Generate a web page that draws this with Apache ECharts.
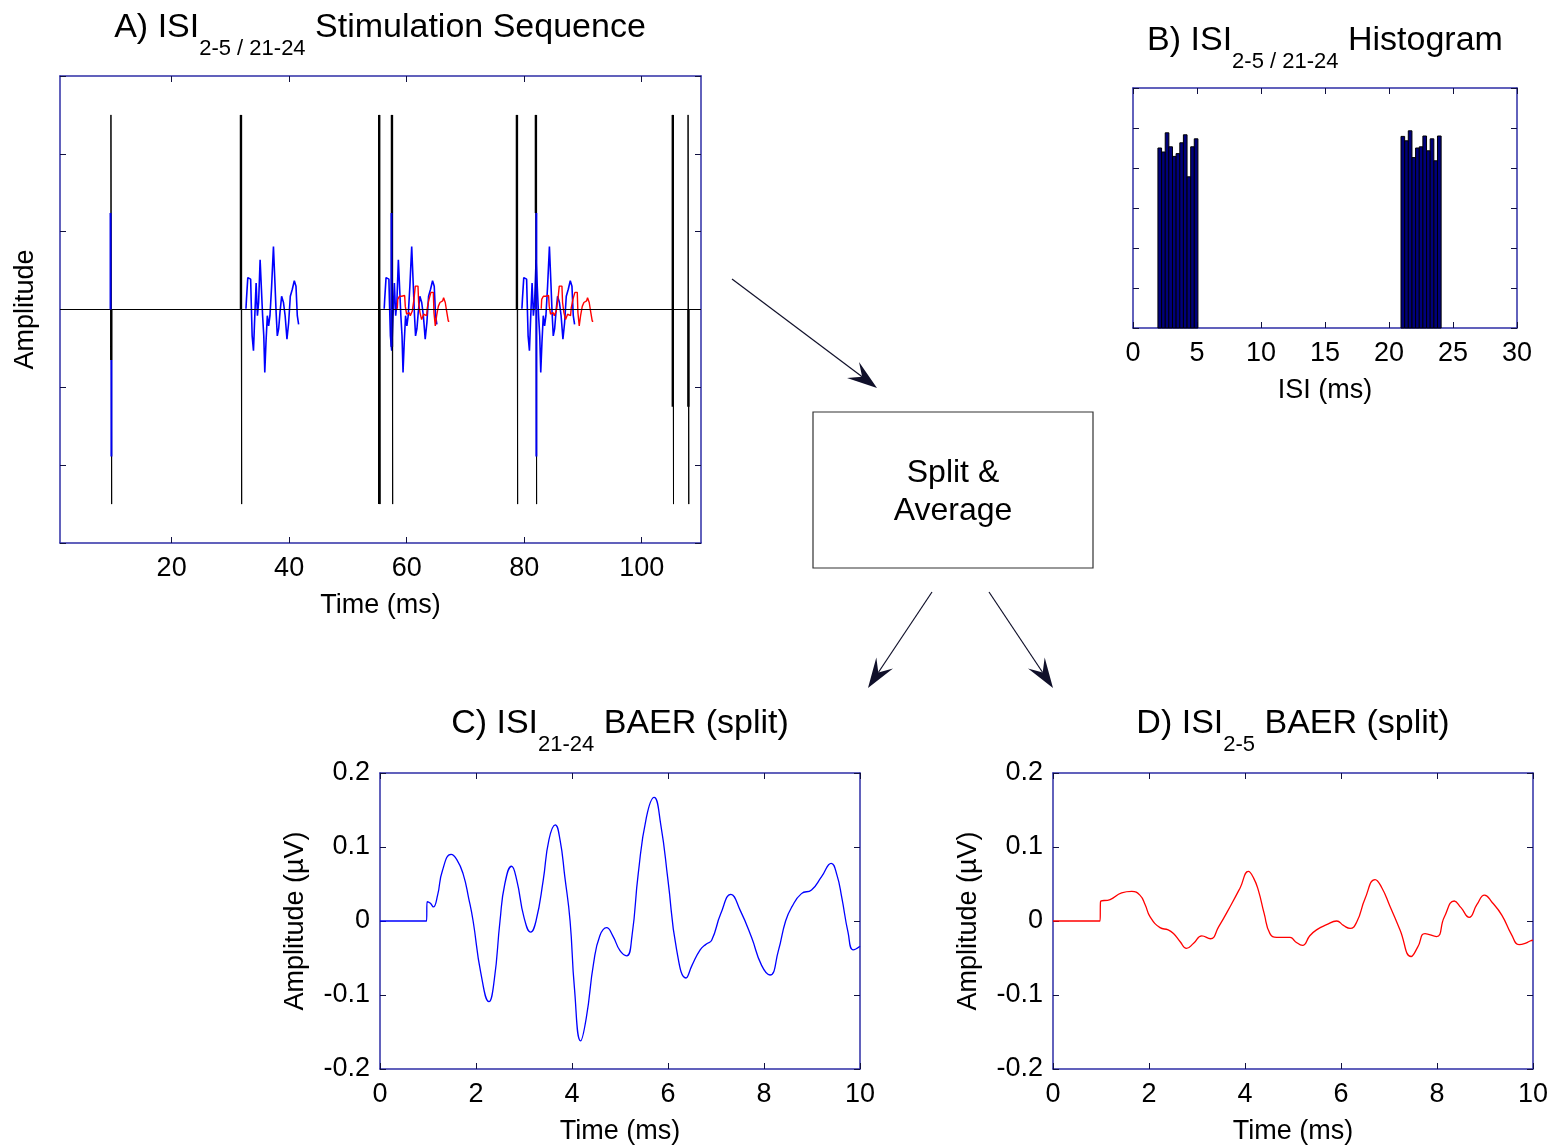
<!DOCTYPE html>
<html>
<head>
<meta charset="utf-8">
<title>ISI split BAER</title>
<script src="https://cdn.jsdelivr.net/npm/echarts@6/dist/echarts.min.js"></script>
<style>
  html, body { margin: 0; padding: 0; background: #fff; }
  #chart { width: 1552px; height: 1146px; }
</style>
</head>
<body>
<div id="chart"></div>
<script>
// ---- A) stimulation sequence ----
var clickTimes = [9.67, 31.8, 55.33, 57.5, 78.77, 82.0, 105.3, 107.9];
var clickHeight = 2.5;
var longIsiClicks = [31.8, 55.33, 78.77];   // sweeps drawn in blue
var shortIsiClicks = [57.5, 82.0];          // sweeps drawn in red
// heavier parts of the click strokes: [time, from, to]
var clickHeavy = [[9.72, 0, -0.65], [31.8, 2.5, 0], [55.33, 2.5, -2.5], [57.5, 2.5, -0.48],
                  [78.77, 2.5, 0], [82.0, 2.5, 1.24], [105.3, 2.5, -1.25], [107.95, 0, -1.25]];
// blue parts of the click strokes: [time, from, to]
var clickBlue = [[9.6, 1.24, 0], [9.75, -0.65, -1.89], [57.42, 1.24, -0.48], [82.08, 1.24, -1.89]];

// single sweeps shown in A (ms after click, amplitude)
var sweepLongT = [0.85, 1.02, 1.31, 1.65, 1.82, 1.99, 2.27, 2.44, 2.72, 2.89, 3.12, 3.40, 3.57, 3.80,
                  3.97, 4.14, 4.37, 4.60, 4.82, 5.05, 5.39, 5.67, 5.90, 6.07, 6.30, 6.53, 6.75, 7.09,
                  7.38, 7.66, 8.00, 8.23, 8.57, 8.91, 9.25, 9.48, 9.70, 9.93];
var sweepLongV = [0.01, 0.13, 0.41, 0.39, 0.13, -0.34, -0.53, -0.08, 0.34, -0.08, 0.09, 0.64, 0.26, -0.08,
                  -0.34, -0.81, -0.43, -0.08, -0.21, -0.08, 0.30, 0.81, 0.34, -0.04, -0.34, -0.25, -0.04, 0.17,
                  0.09, -0.08, -0.38, -0.17, 0.17, 0.26, 0.37, 0.30, -0.08, -0.19];
var sweepShortT = [0.91, 1.06, 1.48, 1.82, 2.16, 2.38, 2.61, 2.95, 3.29, 3.63, 3.86, 4.09, 4.43, 4.65,
                   4.88, 5.22, 5.56, 5.90, 6.13, 6.47, 6.81, 7.04, 7.26, 7.49, 7.72, 8.06, 8.28, 8.62,
                   8.96, 9.19, 9.42, 9.76];
var sweepShortV = [0.01, 0.13, 0.17, 0.15, 0.18, 0.04, -0.06, -0.04, -0.08, -0.02, 0.13, 0.30, 0.30, 0.09,
                   -0.04, -0.13, -0.06, -0.08, 0.02, 0.13, 0.22, 0.22, -0.04, -0.21, -0.08, 0.04, 0.09, 0.11,
                   0.15, 0.09, -0.02, -0.15];

// ---- B) ISI histogram ----
var isiBins = [2.09, 2.38, 2.66, 2.94, 3.23, 3.51, 3.80, 4.08, 4.37, 4.65, 4.93,
               21.08, 21.37, 21.65, 21.94, 22.22, 22.51, 22.79, 23.08, 23.36, 23.65, 23.93];
var isiCounts = [4.50, 4.40, 4.88, 4.53, 4.29, 4.36, 4.63, 4.83, 3.78, 4.53, 4.73,
                 4.79, 4.68, 4.93, 4.26, 4.50, 4.53, 4.80, 4.43, 4.73, 4.18, 4.80];
var binWidth = 0.285;

// ---- C) ISI 21-24 average ----
var longTime = [0, 0.97, 0.98, 1.05, 1.11, 1.2, 1.3, 1.48, 1.6, 1.73, 1.85, 1.94, 2.1, 2.27, 2.38, 2.5,
                2.6, 2.74, 2.85, 3.0, 3.14, 3.25, 3.4, 3.52, 3.65, 3.75, 3.85, 3.96, 4.05, 4.18, 4.3,
                4.45, 4.58, 4.72, 4.85, 5.0, 5.14, 5.25, 5.38, 5.55, 5.71, 5.85, 6.0, 6.18, 6.375, 6.5,
                6.67, 6.8, 6.91, 7.1, 7.31, 7.5, 7.74, 7.95, 8.125, 8.3, 8.45, 8.58, 8.78, 8.99, 9.2,
                9.4, 9.52, 9.62, 9.75, 9.86, 10.0];
var longAmp = [0, 0, 0.026, 0.024, 0.019, 0.035, 0.068, 0.090, 0.083, 0.064, 0.030, 0.000, -0.070, -0.109, -0.080, 0.000,
               0.050, 0.074, 0.055, 0.005, -0.015, 0.000, 0.055, 0.110, 0.130, 0.110, 0.060, 0.000, -0.090, -0.162, -0.130,
               -0.057, -0.020, -0.009, -0.020, -0.040, -0.047, -0.020, 0.064, 0.140, 0.167, 0.130, 0.055, -0.039, -0.077, -0.060,
               -0.039, -0.031, -0.026, 0.010, 0.036, 0.015, -0.022, -0.060, -0.073, -0.040, 0.000, 0.019, 0.037, 0.042, 0.060,
               0.078, 0.062, 0.032, -0.015, -0.039, -0.034];

// ---- D) ISI 2-5 average ----
var shortTime = [0, 0.98, 0.99, 1.19, 1.43, 1.64, 1.81, 1.92, 2.02, 2.23, 2.4, 2.51, 2.65, 2.78, 2.93, 3.1,
                 3.28, 3.45, 3.72, 3.9, 4.07, 4.18, 4.28, 4.4, 4.52, 4.66, 4.94, 5.05, 5.2, 5.35, 5.49,
                 5.7, 5.91, 6.05, 6.19, 6.33, 6.5, 6.71, 6.85, 7.02, 7.23, 7.46, 7.6, 7.75, 7.99, 8.15,
                 8.36, 8.5, 8.67, 8.83, 8.99, 9.15, 9.35, 9.55, 9.71, 9.85, 9.94, 10.0];
var shortAmp = [0, 0, 0.026, 0.029, 0.038, 0.040, 0.035, 0.022, 0.006, -0.009, -0.012, -0.017, -0.028, -0.037, -0.030, -0.020,
                -0.024, -0.008, 0.023, 0.045, 0.067, 0.058, 0.041, 0.010, -0.017, -0.022, -0.022, -0.028, -0.033, -0.020, -0.012,
                -0.005, 0.000, -0.006, -0.010, -0.001, 0.030, 0.056, 0.045, 0.020, -0.012, -0.048, -0.035, -0.017, -0.021, 0.005,
                0.027, 0.018, 0.005, 0.022, 0.035, 0.025, 0.008, -0.018, -0.032, -0.030, -0.027, -0.026];

var font = 'Liberation Sans, Arial, Helvetica, sans-serif';
var frameColor = '#2e2ea6';
var tickColor = '#101040';

function xPair(grid, min, max, interval, showLabels, name, custom) {
  var bottom = {
    type: 'value', gridIndex: grid, position: 'bottom', min: min, max: max, interval: interval,
    axisLine: { show: true, onZero: false, lineStyle: { color: frameColor, width: 1.5 } },
    axisTick: { show: true, inside: true, length: 6, lineStyle: { color: tickColor } },
    axisLabel: { show: showLabels, margin: 12, fontSize: 27, color: '#000', fontFamily: font,
                 showMinLabel: true, showMaxLabel: true },
    splitLine: { show: false },
    name: name, nameLocation: 'middle', nameGap: 49,
    nameTextStyle: { fontSize: 27, color: '#000', fontFamily: font }
  };
  var top = {
    type: 'value', gridIndex: grid, position: 'top', min: min, max: max, interval: interval,
    axisLine: { show: true, onZero: false, lineStyle: { color: frameColor, width: 1.5 } },
    axisTick: { show: true, inside: true, length: 6, lineStyle: { color: tickColor } },
    axisLabel: { show: false }, splitLine: { show: false }
  };
  if (custom) {
    bottom.axisTick.customValues = custom; bottom.axisLabel.customValues = custom;
    top.axisTick.customValues = custom;
  }
  return [bottom, top];
}

function yPair(grid, min, max, interval, showLabels, name, gap) {
  var left = {
    type: 'value', gridIndex: grid, position: 'left', min: min, max: max, interval: interval,
    axisLine: { show: true, onZero: false, lineStyle: { color: frameColor, width: 1.5 } },
    axisTick: { show: true, inside: true, length: 6, lineStyle: { color: tickColor } },
    axisLabel: { show: showLabels, margin: 10, fontSize: 27, color: '#000', fontFamily: font,
                 showMinLabel: true, showMaxLabel: true },
    splitLine: { show: false },
    name: name, nameLocation: 'middle', nameGap: gap,
    nameTextStyle: { fontSize: 27, color: '#000', fontFamily: font }
  };
  var right = {
    type: 'value', gridIndex: grid, position: 'right', min: min, max: max, interval: interval,
    axisLine: { show: true, onZero: false, lineStyle: { color: frameColor, width: 1.5 } },
    axisTick: { show: true, inside: true, length: 6, lineStyle: { color: tickColor } },
    axisLabel: { show: false }, splitLine: { show: false }
  };
  return [left, right];
}

function zip(ts, vs, offset) {
  var out = [];
  for (var i = 0; i < ts.length; i++) out.push([ts[i] + (offset || 0), vs[i]]);
  return out;
}

// stimulus trace: baseline with one up/down stroke per click
var stimData = [[1, 0]];
clickTimes.forEach(function (t) {
  stimData.push([t, 0], [t, clickHeight], [t + 0.12, -clickHeight], [t + 0.12, 0]);
});
stimData.push([110.1, 0]);

function segs(list) {
  var out = [];
  list.forEach(function (s) { out.push([s[0], s[1]], [s[0], s[2]], '-'); });
  return out;
}

function sweeps(clicks, ts, vs) {
  var out = [];
  clicks.forEach(function (c) { out = out.concat(zip(ts, vs, c)); out.push('-'); });
  return out;
}

function title(x, y, label, sub, rest) {
  return {
    type: 'text', x: x, y: y,
    style: {
      text: '{a|' + label + '}{s|' + sub + '}{a|' + rest + '}',
      align: 'center', verticalAlign: 'top',
      rich: {
        a: { fontSize: 34, fontFamily: font, fill: '#000', lineHeight: 40, verticalAlign: 'top' },
        s: { fontSize: 22, fontFamily: font, fill: '#000', lineHeight: 26, verticalAlign: 'top', padding: [27, 0, 0, 0] }
      }
    }
  };
}

function arrow(x1, y1, x2, y2) {
  var dx = x2 - x1, dy = y2 - y1, len = Math.sqrt(dx * dx + dy * dy);
  var ux = dx / len, uy = dy / len, nx = -uy, ny = ux;
  var L = 30, W = 10;
  var bx = x2 - L * ux, by = y2 - L * uy;
  var mx = x2 - 0.62 * L * ux, my = y2 - 0.62 * L * uy;
  return [
    { type: 'line', shape: { x1: x1, y1: y1, x2: mx, y2: my }, style: { stroke: '#10102a', lineWidth: 1.2 } },
    { type: 'polygon', shape: { points: [[x2, y2], [bx + W * nx, by + W * ny], [mx, my], [bx - W * nx, by - W * ny]] },
      style: { fill: '#10102a' } }
  ];
}

var xA = xPair(0, 1, 110.1, 20, true, 'Time (ms)', [20, 40, 60, 80, 100]);
var yA = yPair(0, -3, 3, 1, false, 'Amplitude', 21);
var xB = xPair(1, 0, 30, 5, true, 'ISI (ms)');
var yB = yPair(1, 0, 6, 1, false, '', 10);
var xC = xPair(2, 0, 10, 2, true, 'Time (ms)');
var yC = yPair(2, -0.2, 0.2, 0.1, true, 'Amplitude (\u00b5V)', 71);
var xD = xPair(3, 0, 10, 2, true, 'Time (ms)');
var yD = yPair(3, -0.2, 0.2, 0.1, true, 'Amplitude (\u00b5V)', 71);

var myChart = echarts.init(document.getElementById('chart'), null, { renderer: 'canvas' });
myChart.setOption({
  backgroundColor: '#fff',
  animation: false,
  grid: [
    { left: 60, top: 76, width: 641, height: 467 },
    { left: 1133, top: 88, width: 384, height: 240 },
    { left: 380, top: 773, width: 480, height: 299 },
    { left: 1053, top: 773, width: 480, height: 299 }
  ],
  xAxis: [].concat(xA, xB, xC, xD),
  yAxis: [].concat(yA, yB, yC, yD),
  series: [
    { type: 'line', xAxisIndex: 0, yAxisIndex: 0, data: sweeps(longIsiClicks, sweepLongT, sweepLongV),
      symbol: 'none', step: 'middle', z: 2, lineStyle: { color: '#0000ff', width: 1.6 } },
    { type: 'line', xAxisIndex: 0, yAxisIndex: 0, data: sweeps(shortIsiClicks, sweepShortT, sweepShortV),
      symbol: 'none', step: 'middle', z: 3, lineStyle: { color: '#ff0000', width: 1.4 } },
    { type: 'line', xAxisIndex: 0, yAxisIndex: 0, data: stimData,
      symbol: 'none', z: 4, lineStyle: { color: '#000', width: 1 } },
    { type: 'line', xAxisIndex: 0, yAxisIndex: 0, data: segs(clickHeavy),
      symbol: 'none', z: 4, lineStyle: { color: '#000', width: 2.4 } },
    { type: 'line', xAxisIndex: 0, yAxisIndex: 0, data: segs(clickBlue),
      symbol: 'none', z: 5, lineStyle: { color: '#0000ee', width: 2 } },
    {
      type: 'custom', xAxisIndex: 2, yAxisIndex: 2, data: zip(isiBins, isiCounts),
      renderItem: function (params, api) {
        var c = api.value(0), v = api.value(1);
        var p0 = api.coord([c - binWidth / 2, v]);
        var p1 = api.coord([c + binWidth / 2, 0]);
        return { type: 'rect', shape: { x: p0[0], y: p0[1], width: p1[0] - p0[0], height: p1[1] - p0[1] },
                 style: { fill: '#00007c', stroke: '#000', lineWidth: 1 } };
      }
    },
    { type: 'line', xAxisIndex: 4, yAxisIndex: 4, data: zip(longTime, longAmp),
      symbol: 'none', smooth: 0.5, lineStyle: { color: '#0000ff', width: 1.3 } },
    { type: 'line', xAxisIndex: 6, yAxisIndex: 6, data: zip(shortTime, shortAmp),
      symbol: 'none', smooth: 0.5, lineStyle: { color: '#ff0000', width: 1.3 } }
  ],
  graphic: [
    title(380, 11, 'A) ISI', '2-5 / 21-24', ' Stimulation Sequence'),
    title(1325, 24, 'B) ISI', '2-5 / 21-24', ' Histogram'),
    title(620, 707, 'C) ISI', '21-24', ' BAER (split)'),
    title(1293, 707, 'D) ISI', '2-5', ' BAER (split)'),
    { type: 'rect', shape: { x: 813, y: 412, width: 280, height: 156 },
      style: { fill: '#fff', stroke: '#333', lineWidth: 1.2 } },
    { type: 'text', x: 953, y: 492,
      style: { text: 'Split &\nAverage', font: '32px ' + font, fill: '#000', align: 'center',
               verticalAlign: 'middle', lineHeight: 38 } }
  ].concat(arrow(732, 279, 877, 388), arrow(932, 592, 868, 688), arrow(989, 592, 1053, 688))
});
</script>
</body>
</html>
